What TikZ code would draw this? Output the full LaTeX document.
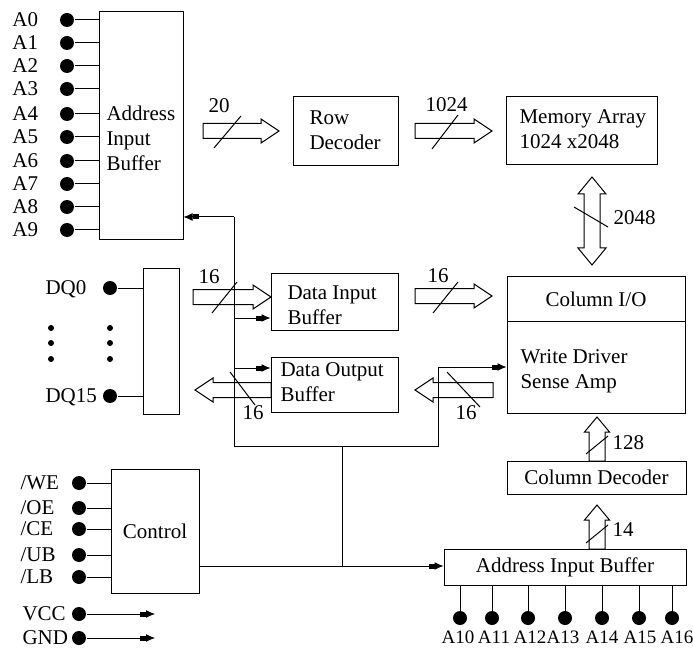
\documentclass[tikz,border=0pt]{standalone}
\usepackage{fontspec}
\setmainfont{Liberation Serif}
\usetikzlibrary{arrows.meta}

\tikzset{
  block/.style={draw, inner sep=0pt},
  pin/.style={circle, fill, inner sep=0pt, minimum size=14pt},
  dot/.style={circle, fill, inner sep=0pt, minimum size=6pt},
  lbl/.style={inner sep=0pt, text height=13.5pt, text depth=0pt},
  txt/.style={inner sep=0pt, align=left, anchor=west},
  sig/.style={-{Rectangle[length=6pt,width=5pt]Latex[length=9pt,width=8pt]}},
  bus/.style={draw, line join=miter},
}

% hollow bus arrow: tail x, tip x, mid y
\newcommand{\hbus}[3]{%
  \pgfmathsetmacro\hbase{#2+18*(#1-#2)/abs(#1-#2)}
  \draw[bus] (#1,#3-7.5) -- (\hbase,#3-7.5) -- (\hbase,#3-12) -- (#2,#3)
    -- (\hbase,#3+12) -- (\hbase,#3+7.5) -- (#1,#3+7.5) -- cycle;}
% hollow bus arrow: mid x, tail y, tip y
\newcommand{\vbus}[3]{%
  \pgfmathsetmacro\vbase{#3+15*(#2-#3)/abs(#2-#3)}
  \draw[bus] (#1-8,#2) -- (#1-8,\vbase) -- (#1-12.5,\vbase) -- (#1,#3)
    -- (#1+12.5,\vbase) -- (#1+8,\vbase) -- (#1+8,#2) -- cycle;}

\begin{document}
\begin{tikzpicture}[x=1pt, y=-1pt, line width=1pt,
    font=\fontsize{21}{25}\selectfont]
  \useasboundingbox (0,0) rectangle (693,652);

  % address input buffer, A0..A9
  \node[block, minimum width=84, minimum height=228] (aib) at (141,126) {};
  \node[txt] (aibt) at (106,138) {Address\\Input\\Buffer};
  \foreach \i/\y in {0/20,1/43,2/66,3/89,4/114,5/137,6/161,7/184,8/207,9/230} {
    \node[pin] (pa\i) at (67,\y) {};
    \node[lbl, anchor=west] (la\i) at (12,\y) {A\i};
    \draw (pa\i) -- (pa\i -| aib.west);
  }

  % row decoder
  \node[block, minimum width=105, minimum height=69] (rdec) at (345.5,131.5) {};
  \node[txt] (rdect) at (309,130) {Row\\Decoder};
  \hbus{203}{279}{131}
  \draw (214,148) -- (241,116);
  \node[lbl, anchor=west] (n20) at (208,106) {20};

  % memory array
  \node[block, minimum width=151, minimum height=68] (mem) at (581.5,131) {};
  \node[txt] (memt) at (519,129) {Memory Array\\1024 x2048};
  \hbus{415}{492}{131}
  \draw (432,149) -- (458,115);
  \node[lbl, anchor=west] (n1024) at (425,105) {1024};

  % column I/O, write driver, sense amp
  \node[block, minimum width=178, minimum height=136] (wd) at (596,345) {};
  \draw ([yshift=-45pt]wd.north west) -- ([yshift=-45pt]wd.north east);
  \node[lbl] (colio) at (596,300) {Column I/O};
  \node[txt] (wdt) at (520,371) {Write Driver\\Sense Amp};

  % 2048
  \draw[bus] (592,177) -- (606,194) -- (600,194) -- (600,248) -- (606,248)
    -- (592,265) -- (578,248) -- (584,248) -- (584,194) -- (578,194) -- cycle;
  \draw (574,207) -- (608,227);
  \node[lbl, anchor=west] (n2048) at (613,218) {2048};

  % column decoder
  \node[block, minimum width=179, minimum height=33] (cdec) at (596.5,477.5) {Column Decoder};
  \vbus{597}{461}{417}
  \draw (586,454) -- (608,436);
  \node[lbl, anchor=west] (n128) at (612,443) {128};
  \vbus{597}{549}{505}
  \draw (586,543) -- (608,525);
  \node[lbl, anchor=west] (n14) at (612,530) {14};

  % address input buffer, A10..A16
  \node[block, minimum width=242, minimum height=36] (aib2) at (565,567) {Address Input Buffer};
  \foreach \i/\x/\t in {10/460/458,11/492/494,12/528/530,13/565/563,14/602/602,15/639/640,16/672/677} {
    \node[pin] (pb\i) at (\x,618) {};
    \node[lbl, font=\fontsize{19}{25}\selectfont] (lb\i) at (\t,637) {A\i};
    \draw (pb\i) -- (pb\i |- aib2.south);
  }

  % DQ pins
  \node[block, minimum width=36, minimum height=145] (dq) at (161,341.5) {};
  \node[pin] (pdq0) at (110,288) {};
  \node[pin] (pdq15) at (110,396) {};
  \node[lbl, anchor=west] (ldq0) at (45,288) {DQ0};
  \node[lbl, anchor=west] (ldq15) at (45,396) {DQ15};
  \draw (pdq0) -- (pdq0 -| dq.west);
  \draw (pdq15) -- (pdq15 -| dq.west);
  \foreach \y [count=\k] in {328,343,359} {
    \node[dot] (dl\k) at (51,\y) {};
    \node[dot] (dr\k) at (110,\y) {};
  }

  % data buffers
  \node[block, minimum width=127, minimum height=56] (dib) at (334.5,302) {};
  \node[txt] (dibt) at (287,305.5) {Data Input\\Buffer};
  \node[block, minimum width=127, minimum height=55] (dob) at (334.5,384.5) {};
  \node[txt] (dobt) at (280,382.5) {Data Output\\Buffer};

  % 16 bit buses
  \hbus{193}{271}{297}
  \draw (212,313) -- (237,282);
  \node[lbl, anchor=west] (n16a) at (198,277) {16};
  \hbus{415}{492}{296}
  \draw (433,313) -- (458,282);
  \node[lbl, anchor=west] (n16b) at (427,276) {16};
  \hbus{271}{195}{390}
  \draw (230,372) -- (255,405);
  \node[lbl, anchor=west] (n16c) at (242,413) {16};
  \hbus{493}{415}{390}
  \draw (447,372) -- (480,407);
  \node[lbl, anchor=west] (n16d) at (455,413) {16};

  % control
  \node[block, minimum width=88, minimum height=124] (ctrl) at (155,531) {Control};
  \foreach \s/\y in {WE/483,OE/508,CE/529,UB/555,LB/577} {
    \node[pin] (p\s) at (79,\y) {};
    \node[lbl, anchor=west] (l\s) at (20,\y) {/\s};
    \draw (p\s) -- (p\s -| ctrl.west);
  }
  \node[pin] (pvcc) at (79,614) {};
  \node[pin] (pgnd) at (79,638) {};
  \node[lbl, anchor=west] (lvcc) at (22,614) {VCC};
  \node[lbl, anchor=west] (lgnd) at (22,638) {GND};
  \coordinate (evcc) at (155,614);
  \coordinate (egnd) at (155,638);
  \draw[sig] (pvcc) -- (evcc);
  \draw[sig] (pgnd) -- (egnd);

  % control lines
  \coordinate (j1) at (234,217);
  \coordinate (j2) at (234,446);
  \coordinate (j3) at (438,446);
  \coordinate (j4) at (438,367);
  \coordinate (j5) at (342,446);
  \coordinate (j6) at (342,566);
  \coordinate (bi) at (234,318);
  \coordinate (bo) at (234,368);
  \draw (j1) -- (j2) -- (j3) -- (j4);
  \draw[sig] (j1) -- (j1 -| aib.east);
  \draw[sig] (bi) -- (bi -| dib.west);
  \draw[sig] (bo) -- (bo -| dob.west);
  \draw[sig] (j4) -- (j4 -| wd.west);
  \draw (j5) -- (j6);
  \draw[sig] (j6 -| ctrl.east) -- (j6 -| aib2.west);
\end{tikzpicture}
\end{document}
